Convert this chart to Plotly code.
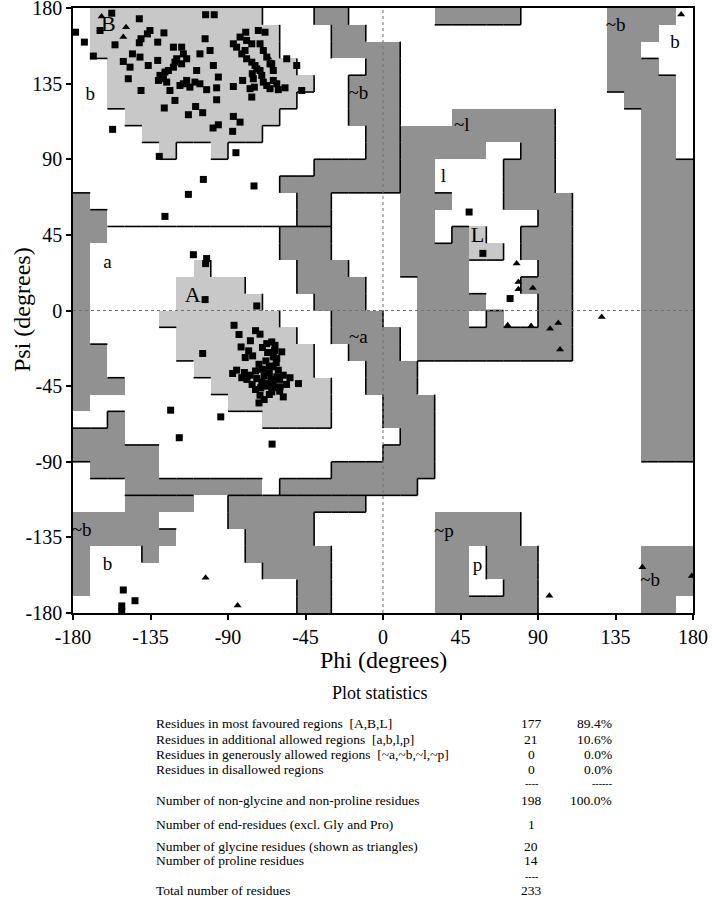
import plotly.graph_objects as go

# ---------------- data ----------------
# Ramachandran region grid (10-degree cells), run-length encoded.
# Rows from psi 170..180 (top) down to psi -180..-170; columns phi -180 .. 180.
# B/A/L = most favoured, b/a/l/p = additional allowed, x/y/z/w = generously allowed (~b,~a,~l,~p), . = disallowed
REGION_ROWS = [
    "b1 B10 b3 x2 .5 z5 .5 x4 b1",
    "b1 B11 b3 x2 .14 x3 b2",
    "b1 B11 b3 x4 .12 x2 b3",
    "b2 B11 b4 x2 .12 x3 b2",
    "b2 B12 b2 x3 .12 x4 b1",
    "b2 B11 b3 x3 .13 x3 b1",
    "b3 B9 b4 x3 .3 z6 .5 x2 b1",
    "b4 B7 b6 x2 z9 .5 x2 b1",
    "b5 B1 b2 B1 b8 x2 z5 l2 z2 .5 x2 b1",
    "b14 x5 z2 l4 z3 .5 x3",
    "b12 x7 z2 l4 z3 .5 x3",
    "y1 b12 x2 .4 z3 l3 z4 .4 x3",
    "y2 b11 x2 .4 z2 l6 z2 .4 x3",
    "y2 a10 y3 .4 z2 l1 z1 L1 l2 z3 .4 x3",
    "y1 a11 y3 .4 z4 L2 l1 z3 .4 x3",
    "y1 a6 A1 a5 y3 .3 z4 l4 z2 .4 x3",
    "y1 a5 A4 a3 y4 .3 z3 l3 z3 .4 x3",
    "y1 a5 A5 a3 y3 .3 z4 l3 z2 .4 x3",
    "y1 a4 A7 a3 y3 .2 z3 l1 z1 l2 z2 .4 x3",
    "y1 a5 A7 a2 y4 .1 z9 .4 x3",
    "y2 a4 A8 a2 y3 .1 z9 .4 x3",
    "y2 a5 A7 a3 y3 .13 x3",
    "y3 a5 A7 a2 y3 .13 x3",
    "y1 a8 A6 a3 y3 .12 x3",
    "a2 y1 a8 A4 a3 y3 .12 x3",
    "y3 a16 y2 .12 x3",
    "y5 a13 y3 .12 x3",
    ".1 y4 a10 y6 .15",
    ".3 y8 a1 y8 .16",
    ".3 x4 b2 x8 .19",
    "x5 b4 x5 .7 w5 .10",
    "x6 b4 x4 .7 w5 .10",
    "x1 b3 x1 b5 x5 .6 w2 p1 w3 .6 x3",
    "x1 b10 x4 .6 w2 p1 w3 .6 x3",
    "x1 b12 x2 .6 w2 p2 w2 .6 x3",
    "b13 x2 .6 w6 .6 x2 b1",
]
REGION_LEVEL = {"B": 3, "A": 3, "L": 3, "b": 2, "a": 2, "l": 2, "p": 2,
                "x": 1, "y": 1, "z": 1, "w": 1, ".": 0}

# non-glycine residues (squares), (phi, psi)
BETA_POINTS = [
    (-157.5, 176.9), (-103, 176), (-98, 176), (-178.5, 165.6), (-173.4, 159.7), (-168.2, 151.4),
    (-164.3, 166.6), (-141.5, 173.6), (-135.3, 166.6), (-136.8, 164.6), (-127.2, 165.2), (-140.5, 161.7),
    (-141.5, 159.3), (-155.6, 158.1), (-130.8, 159.7), (-145.5, 152.7), (-141.1, 150.8), (-150.8, 148.2),
    (-146.9, 144.8), (-136.3, 145.8), (-130.8, 148.8), (-147.9, 137.9), (-140.5, 130.9), (-121.7, 156.7),
    (-116.9, 156.7), (-115.9, 152.7), (-119.8, 149.8), (-120.8, 147.8), (-116.9, 146.8), (-114, 149.8),
    (-121.7, 144.8), (-124.6, 142.8), (-126.6, 141.9), (-129.5, 139.9), (-130.4, 136.9), (-127.5, 137.9),
    (-125.6, 135.9), (-123.7, 130.9), (-120.8, 125), (-117.9, 133.9), (-115.9, 134.9), (-114, 136.9),
    (-112.1, 132.9), (-109.2, 135.9), (-106.3, 134.9), (-102.4, 131.4), (-96.6, 132.5), (-96.6, 125.4),
    (-95.6, 138.9), (-108.2, 142.8), (-106.3, 152.7), (-100.4, 154.7), (-103.3, 161.7), (-98.5, 145.8),
    (-127, 120.5), (-113, 116.5), (-108.8, 121.4), (-104.7, 117.7), (-95.6, 110.5), (-98.7, 108.6),
    (-86.9, 115.5), (-83, 112.1), (-87.3, 106.6), (-85.4, 93.9), (-129.9, 91.7), (-157, 107.8),
    (-104.3, 78), (-113, 69.1), (-74.9, 74.1), (-76.2, 127), (-81.5, 136.9), (-86.9, 133.3),
    (-86.9, 158.7), (-85, 156.7), (-80.1, 154.7), (-82, 152.7), (-79.2, 149.8), (-76.2, 147.8),
    (-74.3, 145.8), (-73.3, 143.8), (-71.4, 142.8), (-70.4, 139.9), (-69.5, 135.9), (-67.5, 133.9),
    (-65.6, 132), (-75.9, 140.9), (-75.3, 137.9), (-74.7, 132.9), (-77.2, 132), (-72.4, 166.6),
    (-79.7, 165.6), (-79.2, 160.7), (-76.2, 158.7), (-83, 162.7), (-71.4, 158.7), (-69.5, 154.7),
    (-67.5, 150.8), (-65.6, 146.8), (-63.7, 142.8), (-63.7, 136.9), (-68.5, 165.6), (-55.9, 149.8),
    (-50.1, 145.8), (-64.6, 146.8), (-61.7, 134.9), (-60.8, 131.4), (-56.9, 132.5), (-47.2, 130.9),
    (-126.6, 56),
]
ALPHA_POINTS = [
    (-110.1, 33.2), (-102.4, 30.9), (-103, 27.9), (-103.3, 6.5), (-73.3, 2.7), (-86.5, -8.8),
    (-83.6, -14.3), (-71.4, -14.1), (-82.4, -21.7), (-75.7, -27), (-104.7, -25.6), (-67.5, -19.7),
    (-87.3, -37.5), (-85, -35.5), (-80.5, -36.9), (-77.2, -38.5), (-73.3, -40.5), (-70.4, -42.5),
    (-67.5, -43.5), (-64.6, -45.4), (-71.4, -50.4), (-64.6, -18.7), (-62.7, -20.7), (-63.7, -27.6),
    (-61.7, -28.6), (-63.7, -33.5), (-60.8, -35.5), (-57.9, -38.5), (-61.7, -39.5), (-63.7, -43.5),
    (-59.8, -45.4), (-64.6, -48.4), (-57.9, -51.4), (-49.1, -43.5), (-58.8, -24.6), (-68, -30),
    (-66, -33), (-70, -35), (-72, -32), (-74, -36), (-69, -39), (-66, -37), (-62, -31), (-60, -41),
    (-65, -41), (-68, -45), (-71, -46), (-74, -47), (-62, -46), (-66, -50), (-69, -53), (-60, -48),
    (-56, -44), (-54, -40), (-63, -24), (-67, -25), (-70, -22), (-78, -24), (-80, -28), (-77, -18),
    (-74, -12), (-76, -44), (-79, -41), (-82, -40), (-72, -55),
]
OTHER_POINTS = [
    (-123.3, -59.3), (-94.2, -63.3), (-118.3, -75.7), (-64.4, -79.5), (-150.8, -166.3),
    (-144, -172.7), (-151.7, -175.8), (-151.7, -179), (50, 58.6), (58, 34), (73.8, 7.1),
]
# glycine residues (triangles)
GLY_POINTS = [
    (-163.4, 174.9), (-149.2, 168.6), (-150.8, 162.7), (-66.5, 150.4), (173.1, 176.1),
    (77.6, 27.9), (78.6, 17), (78.6, 12.6), (87, 13.4), (72.4, -8.8), (86, -9.2), (97, -10.8),
    (101.8, -7.4), (102.8, -23.2), (127, -3.8), (-103, -159), (-84.4, -175.6), (96.6, -169.7),
    (150.6, -152.8), (179.3, -158),
]
# region labels
REGION_TEXT = ["B", "b", "A", "a", "~b", "~a", "~l", "l", "L", "~b", "b", "~p", "p", "~b", "b", "~b"]
REGION_TEXT_PHI = [-159.5, -170, -110.5, -160, -14.3, -14.3, 45.7, 35.1, 54.8, 135.1, 169.6, 35.4, 54.8, -175, -160, 155.1]
REGION_TEXT_PSI = [169.6, 128, 8.5, 28.3, 128.6, -16.3, 109.5, 79.4, 44.1, 169, 159.1, -132.2, -152.4, -131.6, -151.4, -161.4]

TICKS = [-180, -135, -90, -45, 0, 45, 90, 135, 180]
TICK_TEXT = ["-180", "-135", "-90", "-45", "0", "45", "90", "135", "180"]

STAT_TITLE = "Plot statistics"
STAT_LABELS = [
    "Residues in most favoured regions\u00a0\u00a0[A,B,L]",
    "Residues in additional allowed regions\u00a0\u00a0[a,b,l,p]",
    "Residues in generously allowed regions\u00a0\u00a0[~a,~b,~l,~p]",
    "Residues in disallowed regions",
    "",
    "Number of non-glycine and non-proline residues",
    "Number of end-residues (excl. Gly and Pro)",
    "Number of glycine residues (shown as triangles)",
    "Number of proline residues",
    "",
    "Total number of residues",
]
STAT_COUNTS = ["177", "21", "0", "0", "----", "198", "1", "20", "14", "----", "233"]
STAT_PCTS = ["89.4%", "10.6%", "0.0%", "0.0%", "------", "100.0%", "", "", "", "", ""]

# ---------------- layout constants (pixels) ----------------
W, H = 712, 899
PL, PR, PT, PB = 73, 693, 8, 613
FONT = "Liberation Serif, Times New Roman, serif"
STAT_ROW_Y = [723, 739, 754, 769, 784, 800, 824, 846, 860, 876, 891]
STAT_LABEL_X = 155
STAT_COUNT_X = 531
STAT_PCT_RIGHT = 613


def px_x(px):
    return (px - PL) / (PR - PL)


def px_y(py):
    return (PB - py) / (PB - PT)


def parse_row(row):
    cells = []
    for tok in row.split():
        cells += [tok[0]] * int(tok[1:])
    return cells


labels = [parse_row(r) for r in REGION_ROWS]
n = len(labels)
xc = [-175 + 10 * i for i in range(36)]
yc = [-175 + 10 * j for j in range(36)]
z = [[REGION_LEVEL[c] for c in labels[n - 1 - j]] for j in range(n)]

# boundary lines (drawn on lower / right edges of a region)
lx, ly = [], []
for r in range(n - 1):
    edge = 170 - 10 * r
    for c in range(36):
        a, b = labels[r][c], labels[r + 1][c]
        if a != b and REGION_LEVEL[a] >= REGION_LEVEL[b]:
            lx += [-180 + 10 * c, -170 + 10 * c, None]
            ly += [edge, edge, None]
for c in range(35):
    edge = -170 + 10 * c
    for r in range(n):
        a, b = labels[r][c], labels[r][c + 1]
        if a != b and REGION_LEVEL[a] >= REGION_LEVEL[b]:
            lx += [edge, edge, None]
            ly += [180 - 10 * r, 170 - 10 * r, None]

WHITE, DARK, LIGHT = "#ffffff", "#919191", "#c8c8c8"
colorscale = [[0, WHITE], [1 / 6, WHITE], [1 / 6, DARK], [0.5, DARK],
              [0.5, WHITE], [5 / 6, WHITE], [5 / 6, LIGHT], [1, LIGHT]]

fig = go.Figure()
fig.add_trace(go.Heatmap(x=xc, y=yc, z=z, zmin=0, zmax=3, colorscale=colorscale,
                         showscale=False, hoverinfo="skip"))
fig.add_trace(go.Scatter(x=lx, y=ly, mode="lines", line=dict(color="black", width=1.6),
                         hoverinfo="skip", showlegend=False))
sq = BETA_POINTS + ALPHA_POINTS + OTHER_POINTS
fig.add_trace(go.Scatter(x=[p[0] for p in sq], y=[p[1] for p in sq], mode="markers",
                         marker=dict(symbol="square", size=7, color="black"),
                         showlegend=False, name="non-Gly"))
fig.add_trace(go.Scatter(x=[p[0] for p in GLY_POINTS], y=[p[1] for p in GLY_POINTS], mode="markers",
                         marker=dict(symbol="triangle-up", size=7, color="black"),
                         showlegend=False, name="Gly"))
fig.add_trace(go.Scatter(x=REGION_TEXT_PHI, y=REGION_TEXT_PSI, text=REGION_TEXT, mode="text",
                         textfont=dict(family=FONT, color="black",
                                       size=[22 if t in ("A", "B", "L") else 19 for t in REGION_TEXT]),
                         hoverinfo="skip", showlegend=False))

shapes = [
    dict(type="line", xref="x", yref="y", x0=-180, x1=180, y0=0, y1=0,
         line=dict(color="#707070", width=1, dash="dot"), layer="above"),
    dict(type="line", xref="x", yref="y", x0=0, x1=0, y0=-180, y1=180,
         line=dict(color="#707070", width=1, dash="dot"), layer="above"),
]

ann = [
    dict(text="Phi (degrees)", x=0.5, y=px_y(660), xref="paper", yref="paper", showarrow=False,
         font=dict(family=FONT, size=24, color="black"), xanchor="center", yanchor="middle"),
    dict(text="Psi (degrees)", x=px_x(22), y=px_y(310), xref="paper", yref="paper", showarrow=False,
         textangle=-90, font=dict(family=FONT, size=24, color="black"), xanchor="center", yanchor="middle"),
    dict(text=STAT_TITLE, x=px_x(380), y=px_y(693), xref="paper", yref="paper", showarrow=False,
         font=dict(family=FONT, size=18, color="black"), xanchor="center", yanchor="middle"),
]
for i, yy in enumerate(STAT_ROW_Y):
    is_rule = STAT_COUNTS[i].startswith("-")
    fsize = 10 if is_rule else 13.5
    if STAT_LABELS[i]:
        ann.append(dict(text=STAT_LABELS[i], x=px_x(STAT_LABEL_X), y=px_y(yy), xref="paper", yref="paper",
                        showarrow=False, font=dict(family=FONT, size=fsize, color="black"),
                        xanchor="left", yanchor="middle", borderpad=0))
    if STAT_COUNTS[i]:
        ann.append(dict(text=STAT_COUNTS[i], x=px_x(STAT_COUNT_X), y=px_y(yy), xref="paper", yref="paper",
                        showarrow=False, font=dict(family=FONT, size=fsize, color="black"),
                        xanchor="center", yanchor="middle", borderpad=0))
    if STAT_PCTS[i]:
        ann.append(dict(text=STAT_PCTS[i], x=px_x(STAT_PCT_RIGHT), y=px_y(yy), xref="paper", yref="paper",
                        showarrow=False, font=dict(family=FONT, size=fsize, color="black"),
                        xanchor="right", yanchor="middle", borderpad=0))

axis_common = dict(range=[-180, 180], tickvals=TICKS, ticktext=TICK_TEXT, ticks="outside", ticklen=5,
                   tickwidth=1.5, tickcolor="black", showline=True, linecolor="black", linewidth=1.5,
                   mirror=True, showgrid=False, zeroline=False, automargin=False,
                   ticklabeloverflow="allow",
                   tickfont=dict(family=FONT, size=20, color="black"), fixedrange=True)

fig.update_layout(width=W, height=H, margin=dict(l=PL, r=W - PR, t=PT, b=H - PB, pad=0),
                  paper_bgcolor="white", plot_bgcolor="white", showlegend=False,
                  font=dict(family=FONT, color="black"), shapes=shapes, annotations=ann,
                  xaxis=axis_common, yaxis=axis_common)

# remove the browser's default 8px page margin so the figure sits at the window origin
fig.write_html("out.html", config={"displayModeBar": False},
               post_script="document.body.style.margin='0px';document.body.style.overflow='hidden';")
